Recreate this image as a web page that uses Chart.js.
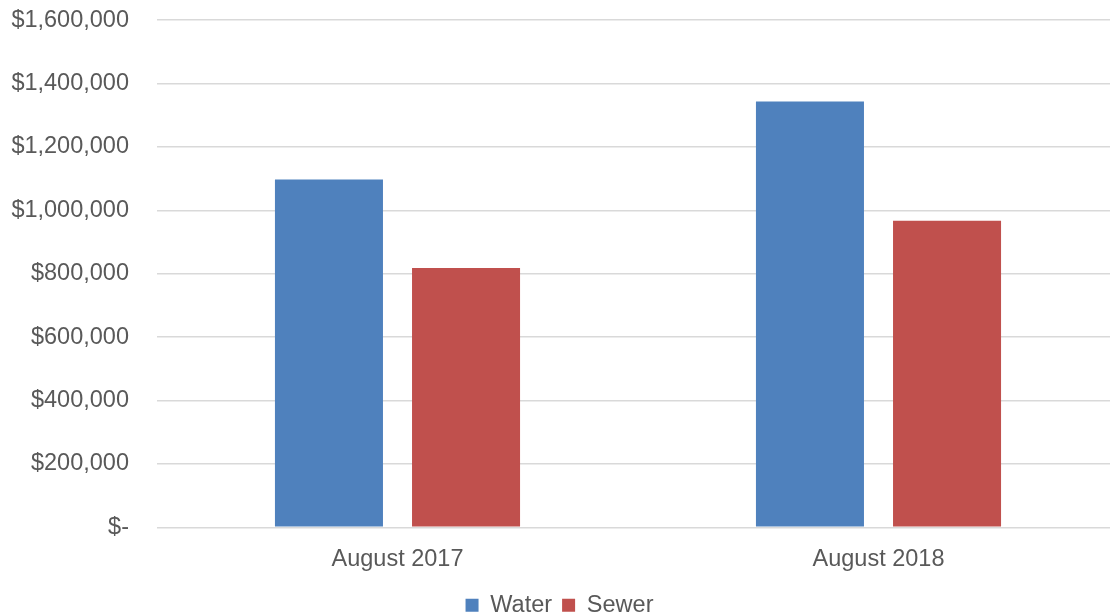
<!DOCTYPE html>
<html>
<head>
<meta charset="utf-8">
<script src="https://cdn.jsdelivr.net/npm/chart.js@4/dist/chart.umd.min.js"></script>
<style>
  html, body { margin: 0; padding: 0; background: #fff; overflow: hidden; }
  #wrap { width: 1119px; height: 649px; position: relative; top: -22px; }
</style>
</head>
<body>
<div id="wrap"><canvas id="billingChart"></canvas></div>
<script>
// Monthly billing totals
var months = ["August 2017", "August 2018"];
var water = [1097000, 1343000];
var sewer = [818000, 967000];

Chart.defaults.font.family = "'Liberation Sans', Arial, sans-serif";
Chart.defaults.font.size = 23.5;
Chart.defaults.color = "#595959";

function money(v) {
  if (v === 0) return "$-";
  return "$" + v.toLocaleString("en-US");
}

var ctx = document.getElementById("billingChart");
var chart = new Chart(ctx, {
  type: 'bar',
  data: {
    labels: months,
    datasets: [
      {
        label: "Water",
        data: water,
        backgroundColor: "#4F81BD",
        categoryPercentage: 0.57,
        barPercentage: 0.788
      },
      {
        label: "Sewer",
        data: sewer,
        backgroundColor: "#C0504D",
        categoryPercentage: 0.57,
        barPercentage: 0.788
      }
    ]
  },
  options: {
    responsive: true,
    maintainAspectRatio: false,
    animation: false,
    layout: { padding: { top: 8, left: 0, right: 0, bottom: 0 } },
    plugins: {
      tooltip: { enabled: false },
      legend: {
        position: 'bottom',
        labels: { boxWidth: 13, boxHeight: 13, padding: 10 }
      }
    },
    scales: {
      x: {
        grid: { display: false },
        border: { display: false },
        ticks: { padding: 10 }
      },
      y: {
        min: 0,
        max: 1600000,
        ticks: { stepSize: 200000, padding: 28, callback: money },
        grid: { color: "#D9D9D9", lineWidth: 1.5, drawTicks: false },
        border: { display: false },
        afterFit: function (scale) { scale.width = 157; }
      }
    }
  }
});
</script>
</body>
</html>
